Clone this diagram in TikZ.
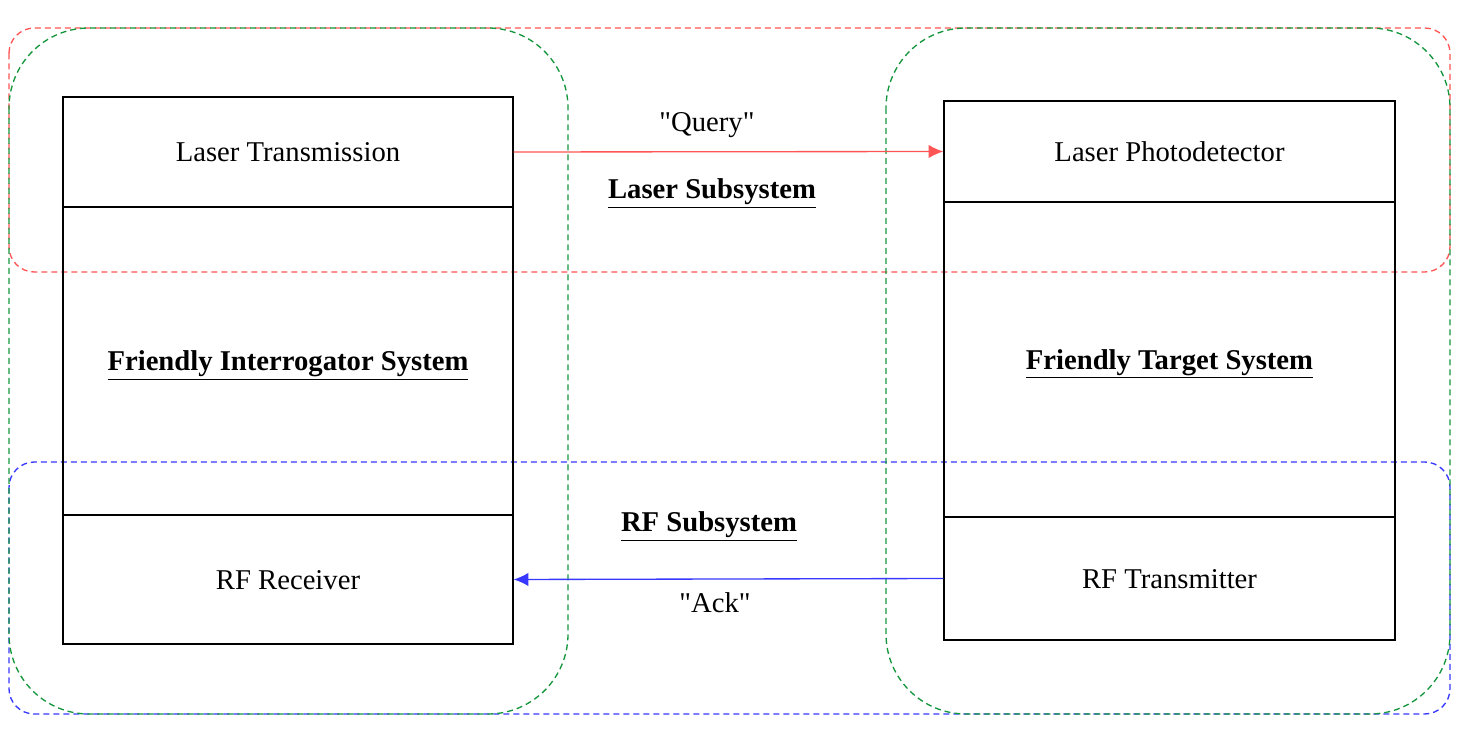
\documentclass[tikz,border=0pt]{standalone}
\usepackage{fontspec}
\setmainfont{Liberation Serif}[Ligatures=TeXOff]
\usepackage{tikz}
\usetikzlibrary{arrows.meta,positioning}

\definecolor{lasred}{RGB}{255,85,85}
\definecolor{sysgreen}{RGB}{20,150,60}
\definecolor{rfblue}{RGB}{55,55,255}

\tikzset{
  part/.style={draw, line width=1pt, inner sep=0pt, text height=16pt, text depth=1pt, font=\fontsize{21.5}{26}\selectfont},
  lbl/.style={inner sep=0pt, text height=16pt, text depth=1pt, font=\fontsize{21.5}{26}\selectfont},
  region/.style={dashed, dash pattern=on 4.5pt off 3pt, line width=1pt},
}

\begin{document}
\begin{tikzpicture}[x=0.75pt,y=-0.75pt]
  \useasboundingbox (0,0) rectangle (1468,730);
  % subsystem and system outlines
  \draw[region, lasred, rounded corners=19pt] (9,28) rectangle (1450,272);
  \draw[region, rfblue, rounded corners=19pt] (9,462) rectangle (1450,714);
  \draw[region, sysgreen, rounded corners=60pt] (9,28) rectangle (568,714);
  \draw[region, sysgreen, rounded corners=60pt] (886,28) rectangle (1450,714);

  % interrogator side
  \node[part, minimum width=337.5pt, minimum height=82.5pt] (lasertx) at (288,152) {Laser Transmission};
  \node[part, minimum width=337.5pt, minimum height=231pt] (intsys) at (288,361) {\textbf{\underline{Friendly Interrogator System}}};
  \node[part, minimum width=337.5pt, minimum height=96.75pt] (rfrx) at (288,579.5) {RF Receiver};

  % target side
  \node[part, minimum width=338.25pt, minimum height=75.75pt] (laserpd) at (1169.5,151.5) {Laser Photodetector};
  \node[part, minimum width=338.25pt, minimum height=236.25pt] (tgtsys) at (1169.5,359.5) {\textbf{\underline{Friendly Target System}}};
  \node[part, minimum width=338.25pt, minimum height=92.25pt] (rftx) at (1169.5,578.5) {RF Transmitter};

  \node[lbl] (query) at (707,122) {"Query"};
  \node[lbl] (lasersub) at (712,189) {\textbf{\underline{Laser Subsystem}}};
  \node[lbl] (rfsub) at (709,522) {\textbf{\underline{RF Subsystem}}};
  \node[lbl] (ack) at (715,603) {"Ack"};

  \draw[lasred, line width=1pt, -{Latex[length=11pt,width=10pt]}] (lasertx.east) -- (laserpd.west);
  \draw[rfblue, line width=1pt, -{Latex[length=11pt,width=10pt]}] (rftx.west) -- (rfrx.east);
\end{tikzpicture}
\end{document}
